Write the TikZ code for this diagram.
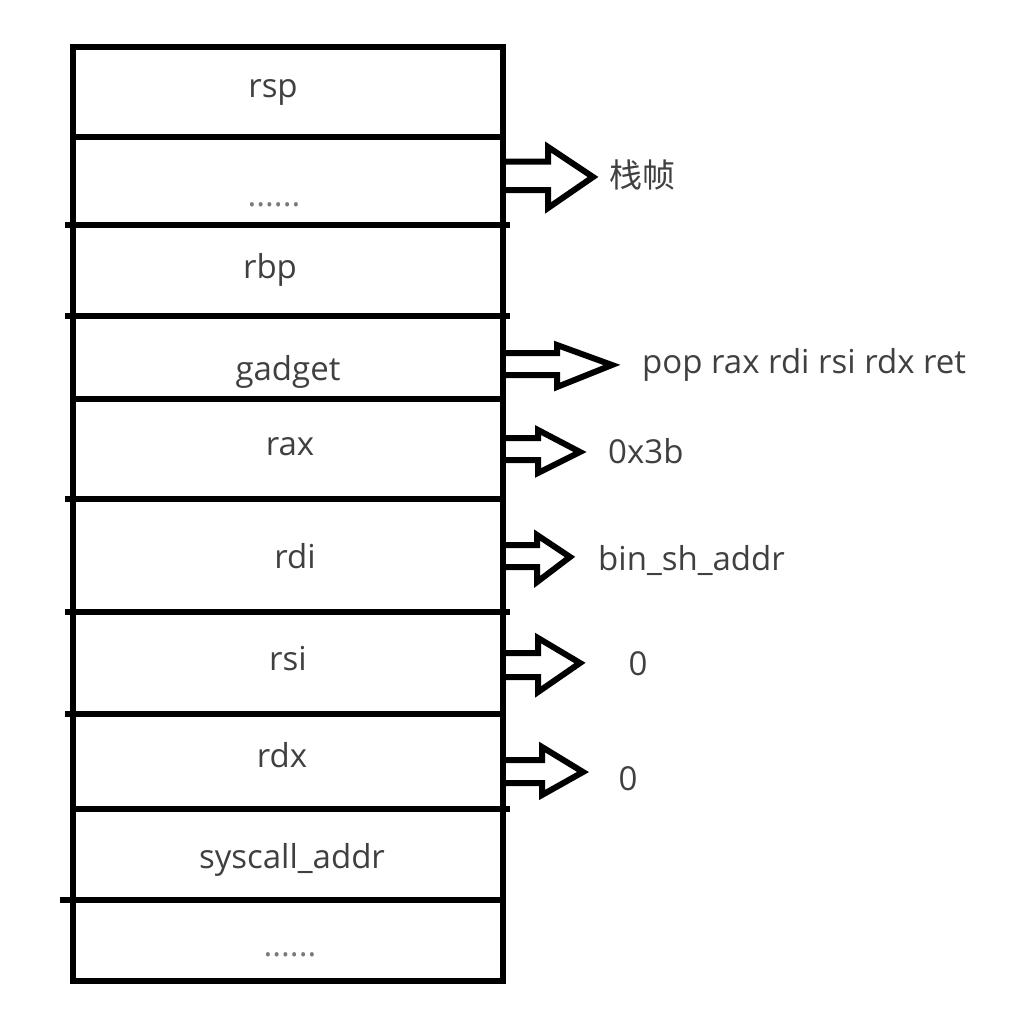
\documentclass[tikz,border=0pt]{standalone}
\usepackage{fontspec}
\setmainfont{Open Sans}
\newfontfamily\cjk{Noto Sans CJK SC}
\usetikzlibrary{calc}
\definecolor{txt}{RGB}{64,64,64}
\begin{document}
\begin{tikzpicture}[x=1pt,y=-1pt,
  cellbox/.style={draw, line width=6pt, rectangle, minimum width=430pt, inner sep=0pt, outer sep=0pt},
  lbl/.style={text=txt, font=\fontsize{33}{40}\selectfont, inner sep=0pt, anchor=base},
  rlbl/.style={lbl, anchor=base west},
  blockarrow/.style={draw, line width=6pt, line join=miter},
  stub/.style={line width=6pt}]
\useasboundingbox (0,0) rectangle (1024,1022);
% stack cells
\node[cellbox, minimum height=90pt]  (c1)  at (288,92)    {};
\node[cellbox, minimum height=88pt]  (c2)  at (288,181)   {};
\node[cellbox, minimum height=91pt]  (c3)  at (288,270.5) {};
\node[cellbox, minimum height=83pt]  (c4)  at (288,357.5) {};
\node[cellbox, minimum height=100pt] (c5)  at (288,449)   {};
\node[cellbox, minimum height=113pt] (c6)  at (288,555.5) {};
\node[cellbox, minimum height=102pt] (c7)  at (288,663)   {};
\node[cellbox, minimum height=95pt]  (c8)  at (288,761.5) {};
\node[cellbox, minimum height=91pt]  (c9)  at (288,854.5) {};
\node[cellbox, minimum height=81pt]  (c10) at (288,940.5) {};
% divider stubs beyond the box
\draw[stub] (c3.north west) -- ++(-8,0);
\draw[stub] (c3.north east) -- ++(7,0);
\draw[stub] (c4.north west) -- ++(-8,0);
\draw[stub] (c4.north east) -- ++(7,0);
\draw[stub] (c6.north west) -- ++(-8,0);
\draw[stub] (c7.north west) -- ++(-8,0);
\draw[stub] (c7.north east) -- ++(7,0);
\draw[stub] (c8.north west) -- ++(-8,0);
\draw[stub] (c9.north east) -- ++(7,0);
\draw[stub] (c10.north west) -- ++(-13,0);
% cell labels
\node[lbl] (t1)  at (273,98)  {rsp};
\node[lbl, text=txt!70] (t2) at (274,206) {......};
\node[lbl] (t3)  at (270,278) {rbp};
\node[lbl] (t4)  at (288,380) {gadget};
\node[lbl] (t5)  at (290,455) {rax};
\node[lbl] (t6)  at (295,568) {rdi};
\node[lbl] (t7)  at (288,670) {rsi};
\node[lbl] (t8)  at (282,767) {rdx};
\node[lbl] (t9)  at (292,868) {syscall\_addr};
\node[lbl, text=txt!70] (t10) at (290,956) {......};
% right-hand labels
\node[lbl, anchor=center, font=\cjk\fontsize{33}{40}\selectfont] (l2) at (642,175) {栈帧};
\node[rlbl] (l4) at (642,373) {pop rax rdi rsi rdx ret};
\node[rlbl] (l5) at (608,463) {0x3b};
\node[rlbl] (l6) at (598,570) {bin\_sh\_addr};
\node[lbl]  (l7) at (638,675) {0};
\node[lbl]  (l8) at (628,790) {0};
% block arrows
\draw[blockarrow] ($(c2.east)+(0,-19.5)$) -- (548,161.5) -- (548,147) -- (593,177) -- (548,208) -- (548,190) -- ($(c2.east)+(0,9)$);
\draw[blockarrow] ($(c4.east)+(0,-4.5)$) -- (557,353) -- (557,345) -- (612,365) -- (557,387) -- (557,375) -- ($(c4.east)+(0,17.5)$);
\draw[blockarrow] ($(c5.east)+(0,-11)$) -- (538,438) -- (538,430) -- (580,452) -- (538,473) -- (538,460) -- ($(c5.east)+(0,11)$);
\draw[blockarrow] ($(c6.east)+(0,-10.5)$) -- (537,545) -- (537,535) -- (570,557) -- (537,582) -- (537,567) -- ($(c6.east)+(0,11.5)$);
\draw[blockarrow] ($(c7.east)+(0,-10)$) -- (538,653) -- (538,638) -- (580,663) -- (538,692) -- (538,677) -- ($(c7.east)+(0,14)$);
\draw[blockarrow] ($(c8.east)+(0,-1.5)$) -- (542,760) -- (542,747) -- (583,772) -- (542,795) -- (542,783) -- ($(c8.east)+(0,21.5)$);
\end{tikzpicture}
\end{document}
